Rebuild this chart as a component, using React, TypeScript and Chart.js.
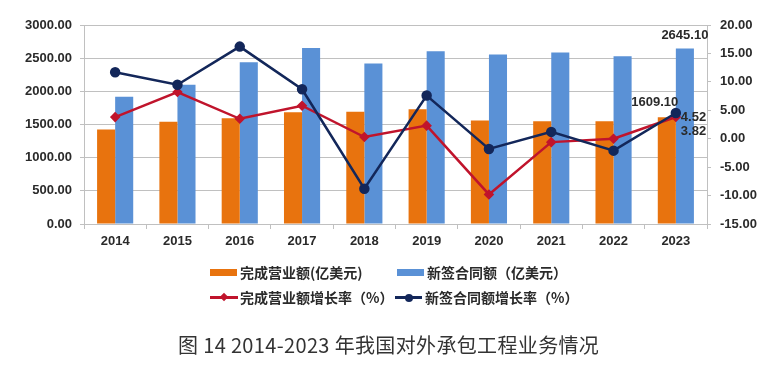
import React, { useEffect, useRef } from 'react';
import { Chart, registerables } from 'chart.js';

Chart.register(...registerables);

const years = ['2014', '2015', '2016', '2017', '2018', '2019', '2020', '2021', '2022', '2023'];
const revenue = [1424.1, 1540.7, 1594.2, 1685.9, 1690.4, 1729.0, 1559.4, 1549.4, 1549.9, 1609.1];
const contracts = [1917.6, 2100.7, 2440.1, 2652.8, 2418.0, 2602.5, 2555.4, 2584.9, 2530.7, 2645.1];
const revenueGrowth = [3.8, 8.2, 3.5, 5.8, 0.3, 2.3, -9.8, -0.6, 0.0, 3.82];
const contractGrowth = [11.7, 9.5, 16.2, 8.7, -8.8, 7.6, -1.8, 1.2, -2.1, 4.52];

const seriesNames = ['完成营业额(亿美元)', '新签合同额（亿美元）', '完成营业额增长率（%）', '新签合同额增长率（%）'];
const caption = '图 14 2014-2023 年我国对外承包工程业务情况';

const ORANGE = '#E8730E';
const BLUE = '#5A91D6';
const RED = '#C0142C';
const NAVY = '#13275A';
const GRID = '#C0C0C0';
const TEXT = '#2a2a2a';

const TICK_FONT = { family: '"Liberation Sans", Arial, sans-serif', size: 13, weight: 'bold' as const };

const dataLabelPlugin = {
  id: 'lastDataLabels',
  afterDatasetsDraw(chart: any) {
    const ctx = chart.ctx;
    const last = years.length - 1;
    const navy = chart.getDatasetMeta(0).data[last];
    const red = chart.getDatasetMeta(1).data[last];
    const orange = chart.getDatasetMeta(2).data[last];
    const blue = chart.getDatasetMeta(3).data[last];
    ctx.save();
    ctx.font = 'bold 13px "Liberation Sans", Arial, sans-serif';
    ctx.fillStyle = TEXT;
    ctx.textBaseline = 'middle';
    ctx.textAlign = 'center';
    ctx.fillText(contracts[last].toFixed(2), blue.x, blue.y - 13);
    ctx.fillText(revenue[last].toFixed(2), orange.x - 12, orange.y - 15);
    ctx.textAlign = 'left';
    ctx.fillText(contractGrowth[last].toFixed(2), navy.x + 5, navy.y + 4);
    ctx.fillText(revenueGrowth[last].toFixed(2), red.x + 5, red.y + 14);
    ctx.restore();
  },
};

export default function App() {
  const canvasRef = useRef<HTMLCanvasElement | null>(null);

  useEffect(() => {
    const canvas = canvasRef.current;
    if (!canvas) return;
    const chart = new Chart(canvas, {
      type: 'bar',
      data: {
        labels: years,
        datasets: [
          {
            type: 'line',
            label: seriesNames[3],
            data: contractGrowth,
            yAxisID: 'y1',
            borderColor: NAVY,
            backgroundColor: NAVY,
            borderWidth: 2.5,
            pointStyle: 'circle',
            pointRadius: 4,
            pointBackgroundColor: NAVY,
            pointBorderColor: NAVY,
            tension: 0,
            order: 0,
          },
          {
            type: 'line',
            label: seriesNames[2],
            data: revenueGrowth,
            yAxisID: 'y1',
            borderColor: RED,
            backgroundColor: RED,
            borderWidth: 2.5,
            pointStyle: 'rectRot',
            pointRadius: 3.5,
            pointBackgroundColor: RED,
            pointBorderColor: RED,
            tension: 0,
            order: 1,
          },
          {
            type: 'bar',
            label: seriesNames[0],
            data: revenue,
            yAxisID: 'y',
            backgroundColor: ORANGE,
            categoryPercentage: 0.58,
            barPercentage: 1,
            order: 2,
          },
          {
            type: 'bar',
            label: seriesNames[1],
            data: contracts,
            yAxisID: 'y',
            backgroundColor: BLUE,
            categoryPercentage: 0.58,
            barPercentage: 1,
            order: 2,
          },
        ],
      },
      options: {
        responsive: false,
        animation: false,
        layout: { padding: { top: 25, left: 0, right: 0, bottom: 0 } },
        plugins: {
          legend: { display: false },
          title: { display: false },
          tooltip: { enabled: false },
        },
        scales: {
          x: {
            offset: true,
            grid: {
              display: true,
              offset: true,
              drawOnChartArea: false,
              drawTicks: true,
              tickLength: 5,
              color: GRID,
            },
            border: { display: true, color: GRID, width: 1 },
            ticks: { font: TICK_FONT, color: TEXT, padding: 5, maxRotation: 0 },
            afterFit: (scale: any) => {
              scale.height = 146;
            },
          },
          y: {
            position: 'left',
            min: 0,
            max: 3000,
            ticks: {
              stepSize: 500,
              font: TICK_FONT,
              color: TEXT,
              padding: 8,
              callback: (v: any) => Number(v).toFixed(2),
            },
            grid: { color: GRID, lineWidth: 1, drawTicks: true, tickLength: 4 },
            border: { display: true, color: GRID, width: 1 },
            afterFit: (scale: any) => {
              scale.width = 84;
            },
          },
          y1: {
            position: 'right',
            min: -15,
            max: 20,
            ticks: {
              stepSize: 5,
              font: TICK_FONT,
              color: TEXT,
              padding: 9,
              callback: (v: any) => Number(v).toFixed(2),
            },
            grid: { drawOnChartArea: false, drawTicks: true, tickLength: 4, color: GRID },
            border: { display: true, color: GRID, width: 1 },
            afterFit: (scale: any) => {
              scale.width = 77;
            },
          },
        },
      },
      plugins: [dataLabelPlugin],
    } as any);
    return () => chart.destroy();
  }, []);

  const legendText: React.CSSProperties = {
    position: 'absolute',
    fontFamily: '"Noto Sans CJK SC", sans-serif',
    fontWeight: 'bold',
    fontSize: 14,
    lineHeight: '20px',
    color: TEXT,
    whiteSpace: 'nowrap',
  };

  return (
    <div
      style={{
        position: 'absolute',
        left: 0,
        top: 0,
        width: 784,
        height: 370,
        background: '#ffffff',
        overflow: 'hidden',
      }}
    >
      <canvas ref={canvasRef} width={784} height={370} style={{ position: 'absolute', left: 0, top: 0 }} />
      <div style={{ position: 'absolute', left: 210, top: 269, width: 27, height: 7, background: ORANGE }} />
      <div style={{ ...legendText, left: 240, top: 262 }}>{seriesNames[0]}</div>
      <div style={{ position: 'absolute', left: 397, top: 269, width: 27, height: 7, background: BLUE }} />
      <div style={{ ...legendText, left: 427, top: 262 }}>{seriesNames[1]}</div>
      <div style={{ position: 'absolute', left: 210, top: 296, width: 28, height: 2.5, background: RED }} />
      <div
        style={{
          position: 'absolute',
          left: 221,
          top: 294,
          width: 6,
          height: 6,
          background: RED,
          transform: 'rotate(45deg)',
        }}
      />
      <div style={{ ...legendText, left: 240, top: 287 }}>{seriesNames[2]}</div>
      <div style={{ position: 'absolute', left: 395, top: 296, width: 27, height: 2.5, background: NAVY }} />
      <div
        style={{
          position: 'absolute',
          left: 405,
          top: 293.5,
          width: 8,
          height: 8,
          borderRadius: 4,
          background: NAVY,
        }}
      />
      <div style={{ ...legendText, left: 425, top: 287 }}>{seriesNames[3]}</div>
      <div
        style={{
          position: 'absolute',
          left: 178,
          top: 331,
          fontFamily: '"Noto Sans CJK SC", sans-serif',
          fontSize: 20,
          lineHeight: '28px',
          letterSpacing: '0.35px',
          color: '#333333',
          whiteSpace: 'pre',
        }}
      >
        {caption}
      </div>
    </div>
  );
}
